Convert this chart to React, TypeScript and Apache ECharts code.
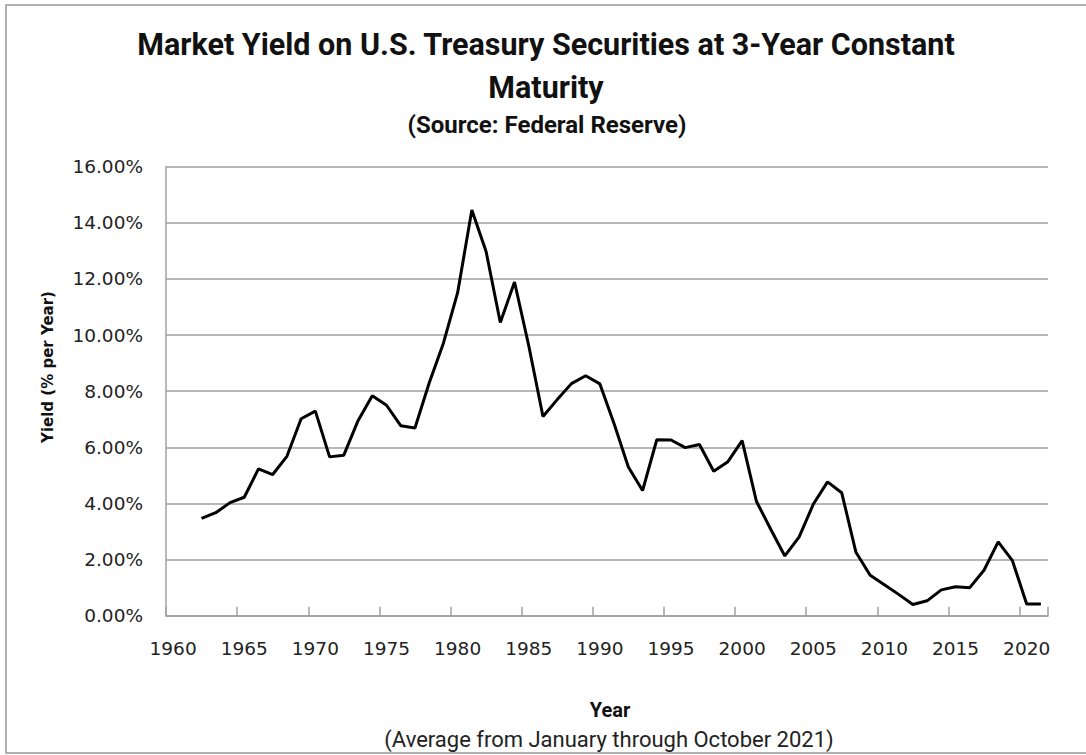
import React, { useEffect, useRef } from "react";
import * as echarts from "echarts";

const years: string[] = [];
for (let y = 1960; y <= 2021; y++) years.push(String(y));

// Yield in % per year, 1960..2021 (1960, 1961 have no data)
const yields: (number | null)[] = [
  null, null,
  3.47, 3.67, 4.03, 4.22, 5.23, 5.03, 5.68, 7.02,
  7.29, 5.66, 5.72, 6.95, 7.84, 7.50, 6.77, 6.69, 8.29, 9.71,
  11.51, 14.46, 12.98, 10.45, 11.89, 9.62, 7.10, 7.70, 8.27, 8.55,
  8.26, 6.84, 5.30, 4.46, 6.27, 6.26, 5.99, 6.10, 5.15, 5.49,
  6.24, 4.08, 3.09, 2.13, 2.80, 3.97, 4.77, 4.38, 2.26, 1.44,
  1.10, 0.76, 0.40, 0.53, 0.92, 1.03, 1.00, 1.62, 2.63, 1.96,
  0.42, 0.42,
];

const yTicks = { min: 0, max: 16, interval: 2 };

const titleLine1 = "Market Yield on U.S. Treasury Securities at 3-Year Constant";
const titleLine2 = "Maturity";
const subTitle = "(Source: Federal Reserve)";
const yName = "Yield (% per Year)";
const xName = "Year";
const xNote = "(Average from January through October 2021)";

export default function App() {
  const ref = useRef<HTMLDivElement>(null);
  useEffect(() => {
    if (!ref.current) return;
    const chart = echarts.init(ref.current, undefined, { renderer: "svg" });
    const grid = "#a0a0a0";
    chart.setOption({
      animation: false,
      backgroundColor: "#ffffff",
      title: [
        {
          text: titleLine1 + "\n" + titleLine2,
          left: 546,
          top: 23,
          padding: 0,
          textAlign: "center",
          textStyle: {
            fontFamily: "Roboto",
            fontWeight: "bold",
            fontSize: 30.5,
            lineHeight: 43,
            color: "#111",
          },
        },
        {
          text: subTitle,
          left: 547,
          top: 112,
          padding: 0,
          textAlign: "center",
          textStyle: {
            fontFamily: "Roboto",
            fontWeight: "bold",
            fontSize: 24,
            lineHeight: 26,
            color: "#111",
          },
        },
      ],
      grid: { left: 166, right: 38, top: 166.7, bottom: 139.3, containLabel: false },
      xAxis: {
        type: "category",
        data: years,
        boundaryGap: true,
        axisLine: { show: true, lineStyle: { color: grid, width: 1.5 } },
        axisTick: { show: true, interval: 4, inside: true, length: 9, lineStyle: { color: grid, width: 1.5 } },
        axisLabel: {
          interval: 4,
          margin: 23,
          fontFamily: "DejaVu Sans",
          fontSize: 18.5,
          color: "#222",
        },
        splitLine: { show: false },
      },
      yAxis: {
        type: "value",
        min: yTicks.min,
        max: yTicks.max,
        interval: yTicks.interval,
        axisLine: { show: true, lineStyle: { color: grid, width: 1.5 } },
        axisTick: { show: false },
        axisLabel: {
          margin: 23,
          fontFamily: "DejaVu Sans",
          fontSize: 18.5,
          color: "#222",
          formatter: (v: number) => v.toFixed(2) + "%",
        },
        splitLine: { show: true, lineStyle: { color: grid, width: 1.5 } },
      },
      series: [
        {
          type: "line",
          data: yields,
          showSymbol: false,
          lineStyle: { color: "#000", width: 3 },
          itemStyle: { color: "#000" },
        },
      ],
      graphic: [
        {
          type: "rect",
          shape: { x: 6, y: 5, width: 1100, height: 748 },
          style: { fill: "none", stroke: "#999", lineWidth: 1.5 },
          silent: true,
        },
        {
          type: "text",
          x: 48,
          y: 367,
          rotation: Math.PI / 2,
          style: {
            text: yName,
            fontFamily: "DejaVu Sans",
            fontWeight: "bold",
            fontSize: 15,
            fill: "#111",
            textAlign: "center",
            textVerticalAlign: "middle",
          },
        },
        {
          type: "text",
          x: 610,
          y: 710,
          style: {
            text: xName,
            fontFamily: "Roboto",
            fontWeight: "bold",
            fontSize: 20,
            fill: "#111",
            textAlign: "center",
            textVerticalAlign: "middle",
          },
        },
        {
          type: "text",
          x: 609,
          y: 739,
          style: {
            text: xNote,
            fontFamily: "Roboto",
            fontSize: 22,
            fill: "#222",
            textAlign: "center",
            textVerticalAlign: "middle",
          },
        },
      ],
    });
    return () => chart.dispose();
  }, []);
  return (
    <div
      ref={ref}
      style={{ position: "fixed", left: 0, top: 0, width: 1086, height: 755, background: "#fff" }}
    />
  );
}
